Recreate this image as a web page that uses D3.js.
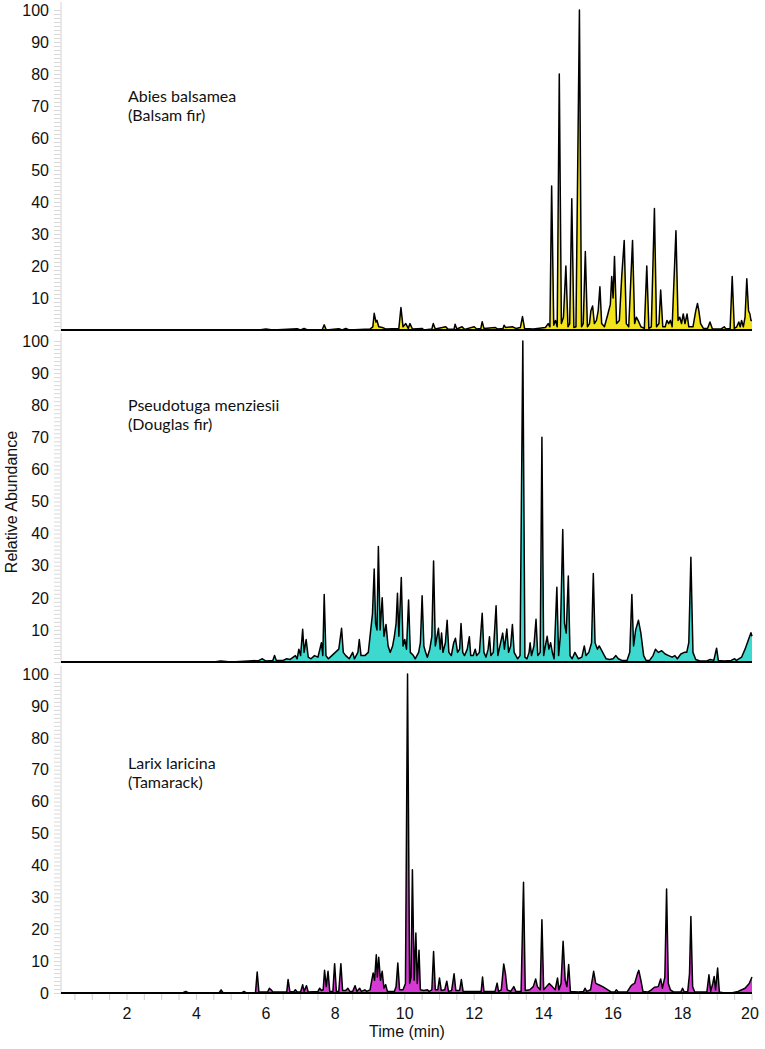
<!DOCTYPE html>
<html><head><meta charset="utf-8">
<script src="https://cdn.jsdelivr.net/npm/d3@7/dist/d3.min.js"></script>
<style>
html,body{margin:0;padding:0;background:#fff;}
svg{display:block;}
</style></head>
<body>
<script>
// ---- data (time in min, relative abundance) ----
const sampleNames = ["Abies balsamea", "Pseudotuga menziesii", "Larix laricina"];
const commonNames = ["(Balsam fir)", "(Douglas fir)", "(Tamarack)"];
const fillColors = ["#f2e41c", "#3dd9ce", "#d63ad2"];
const xTickValues = [2, 4, 6, 8, 10, 12, 14, 16, 18, 20];
const yTickValues = [10, 20, 30, 40, 50, 60, 70, 80, 90, 100];

const abiesTrace = [[0.1,0],[5.8,0],[6.0,0.3],[6.2,0],[6.9,0.4],[7.0,0],[7.1,0.5],[7.2,0],[7.62,0],[7.68,1.6],[7.74,0],[8.1,0.4],[8.2,0],[8.3,0.5],[8.4,0],[9.0,0.3],[9.08,1],[9.12,5.2],[9.17,2.5],[9.2,3],[9.25,1],[9.35,0.8],[9.45,0.3],[9.83,0.5],[9.89,7],[9.95,1],[10.03,2],[10.1,0.5],[10.15,2],[10.22,0.3],[10.5,0.5],[10.55,0],[10.78,0.3],[10.82,2],[10.88,0.3],[11.18,1],[11.25,0.2],[11.42,0.3],[11.45,1.8],[11.5,0.3],[11.65,1],[11.72,0.2],[12.0,1],[12.07,0.3],[12.19,0.5],[12.23,2.6],[12.28,0.5],[12.6,0.8],[12.68,0.3],[12.83,0.5],[12.86,1.5],[12.9,0.8],[13.1,1],[13.2,0.5],[13.33,0.8],[13.39,4.2],[13.45,0.5],[13.7,0.3],[14.05,0.8],[14.13,2],[14.18,1],[14.23,45],[14.29,1.5],[14.34,3],[14.39,1],[14.45,80],[14.51,2],[14.57,4],[14.64,20],[14.7,1],[14.75,2],[14.81,41],[14.87,0.8],[14.93,1],[15.03,100],[15.09,1],[15.14,2],[15.2,24.5],[15.26,1],[15.32,2],[15.36,6],[15.41,7.5],[15.46,2],[15.52,3],[15.57,6],[15.62,13.5],[15.67,2],[15.75,1],[15.85,5],[15.92,8],[15.96,16.7],[16.0,10],[16.04,23],[16.1,2],[16.18,3],[16.25,17],[16.32,28],[16.38,2],[16.45,1],[16.56,28],[16.62,2],[16.67,4],[16.72,3],[16.8,1],[16.9,0.5],[16.97,20],[17.03,0.5],[17.1,1],[17.19,38],[17.25,1],[17.32,2],[17.37,12.5],[17.43,1],[17.5,1],[17.55,3],[17.6,2],[17.65,3],[17.7,1],[17.81,31],[17.87,3],[17.92,4],[17.97,2],[18.02,5],[18.07,2],[18.13,5],[18.18,1],[18.3,1],[18.38,6],[18.43,8.3],[18.47,6],[18.52,2],[18.6,0.5],[18.72,0.5],[18.79,2.5],[18.86,0.3],[19.1,0.3],[19.2,1],[19.25,0.3],[19.37,0.5],[19.43,16.7],[19.49,0.5],[19.56,1],[19.62,2.5],[19.66,1],[19.7,3],[19.75,1],[19.8,4],[19.85,16],[19.9,6],[19.94,5],[19.97,3],[20,3]];

const pseudotugaTrace = [[0.1,0],[4.5,0],[4.7,0.3],[5.0,0],[5.5,0.3],[5.8,0.5],[5.9,1],[6.0,0.3],[6.2,0.5],[6.25,2],[6.3,0.5],[6.5,0.5],[6.6,1],[6.7,0.8],[6.85,2],[6.9,1],[6.95,4],[7.0,2],[7.06,10.2],[7.1,3],[7.16,7],[7.22,1.5],[7.3,1],[7.4,2],[7.5,1.5],[7.6,6],[7.64,2],[7.68,21],[7.73,2],[7.8,1],[7.9,2],[8.0,3],[8.1,4],[8.18,10.5],[8.23,3],[8.3,2],[8.4,1],[8.5,3],[8.55,1],[8.65,3],[8.69,7],[8.74,2],[8.85,2],[8.95,3],[9.02,10],[9.07,15],[9.12,29],[9.16,12],[9.2,10],[9.24,36],[9.29,10],[9.35,20],[9.4,8],[9.46,11.7],[9.52,5],[9.58,3],[9.65,5],[9.7,8],[9.75,12],[9.79,21.4],[9.83,8],[9.9,26.3],[9.95,5],[10.0,7],[10.05,4],[10.11,19.3],[10.16,3],[10.25,2],[10.3,1],[10.4,3],[10.45,6],[10.5,20.6],[10.55,5],[10.6,3],[10.65,1.5],[10.72,4],[10.78,8],[10.83,31.5],[10.88,5],[10.93,8],[10.97,10.5],[11.02,4],[11.06,9],[11.1,3],[11.17,6],[11.22,13],[11.27,3],[11.34,2],[11.41,6],[11.46,7.4],[11.52,3],[11.58,4],[11.62,12],[11.67,3],[11.72,2],[11.8,4],[11.86,7.9],[11.9,2],[11.97,2],[12.03,4],[12.07,2],[12.15,3],[12.23,15.2],[12.28,3],[12.34,1.5],[12.4,4],[12.44,7.9],[12.48,2],[12.55,3],[12.63,17.5],[12.68,2],[12.74,5],[12.82,9],[12.87,4],[12.94,10.3],[12.99,3],[13.05,5],[13.1,11.7],[13.15,3],[13.25,1],[13.32,2],[13.4,100],[13.46,1.5],[13.52,1],[13.58,3],[13.61,6],[13.65,2],[13.72,5],[13.78,13.3],[13.83,2],[13.9,3],[13.95,70],[14.0,2],[14.05,5],[14.1,8],[14.15,4],[14.2,6],[14.25,3],[14.3,1],[14.38,23.3],[14.43,2],[14.48,8],[14.55,41.3],[14.6,12],[14.65,9],[14.71,26.8],[14.76,2],[14.82,1],[14.9,3],[15.0,1],[15.1,1.5],[15.17,5],[15.22,2],[15.3,3],[15.38,6],[15.43,27.6],[15.48,6],[15.55,4],[15.6,5],[15.7,3],[15.8,1],[15.9,0.8],[16.0,1],[16.08,2],[16.15,1],[16.25,0.5],[16.4,0.5],[16.48,3],[16.54,21],[16.59,5],[16.65,10],[16.73,13],[16.8,9],[16.88,2],[16.95,0.5],[17.05,0.5],[17.15,2],[17.22,4],[17.3,3],[17.4,3.5],[17.5,2.5],[17.6,2],[17.7,1.5],[17.78,2],[17.85,1],[17.95,2.5],[18.05,3],[18.12,3],[18.18,6],[18.24,32.6],[18.3,3],[18.38,0.8],[18.5,0.3],[18.7,0.3],[18.8,0.8],[18.9,0.5],[18.98,4.3],[19.03,0.5],[19.2,0.3],[19.4,0.5],[19.5,1],[19.55,0.5],[19.7,1.5],[19.8,4],[19.9,7],[19.97,9.1],[20,8]];

const larixTrace = [[0.1,0],[3.6,0],[3.69,0.5],[3.78,0],[4.65,0],[4.71,1],[4.77,0],[5.3,0],[5.37,0.5],[5.44,0],[5.7,0],[5.75,6.6],[5.8,0.3],[6.05,0.3],[6.1,1.5],[6.15,1],[6.2,0.3],[6.6,0.3],[6.64,4.2],[6.69,0.5],[6.8,0.3],[6.85,1],[6.9,0.3],[7.0,0.3],[7.06,2.6],[7.1,0.5],[7.17,2.3],[7.22,0.3],[7.5,0.5],[7.55,1.5],[7.6,0.8],[7.65,1],[7.69,7.1],[7.74,2],[7.79,6.8],[7.84,0.5],[7.93,0.5],[7.98,9.2],[8.03,0.5],[8.1,0.5],[8.16,9.2],[8.21,0.8],[8.3,0.8],[8.36,1.5],[8.42,0.5],[8.5,0.5],[8.57,2.3],[8.62,0.5],[8.7,1.5],[8.75,0.5],[8.85,1],[8.9,0.5],[9.0,1],[9.05,4],[9.09,6.3],[9.13,4],[9.18,12],[9.21,5],[9.25,11.2],[9.3,4],[9.35,6.8],[9.4,1.5],[9.45,2.6],[9.5,0.5],[9.7,0.5],[9.75,2],[9.8,9.4],[9.85,1],[9.95,1],[10.02,3],[10.08,100],[10.14,3],[10.18,5],[10.22,38.6],[10.27,4],[10.32,18.8],[10.36,3],[10.41,13.4],[10.45,1],[10.55,0.8],[10.65,1],[10.7,0.5],[10.78,1],[10.83,13],[10.88,1],[10.95,1],[11.0,4.7],[11.05,0.8],[11.15,1],[11.21,3.7],[11.26,0.5],[11.35,0.8],[11.42,6],[11.47,0.8],[11.58,0.8],[11.63,4.2],[11.68,0.5],[12.2,0.5],[12.24,5],[12.28,0.5],[12.6,0.5],[12.66,3.1],[12.7,0.5],[12.78,1],[12.85,9.1],[12.9,6],[12.95,1],[13.05,0.5],[13.14,2],[13.2,0.5],[13.35,0.5],[13.42,34.7],[13.47,0.8],[13.6,1],[13.7,2],[13.77,4.4],[13.82,2],[13.9,1],[13.95,23],[14.0,1],[14.08,2],[14.16,3],[14.25,2],[14.33,1],[14.4,4.7],[14.44,1],[14.5,3],[14.56,16.2],[14.62,4],[14.67,2],[14.72,8.9],[14.77,0.5],[15.0,0.3],[15.15,0.5],[15.19,1.5],[15.24,0.5],[15.35,1],[15.44,6.8],[15.5,3],[15.6,2.5],[15.7,2],[15.85,1],[15.95,0.3],[16.05,0.3],[16.09,1],[16.15,0.3],[16.4,0.3],[16.5,2],[16.55,2.6],[16.62,3],[16.7,6],[16.74,7.1],[16.8,4],[16.86,0.5],[17.0,0.3],[17.1,1],[17.19,1.8],[17.3,2],[17.37,4.4],[17.42,1.5],[17.49,5],[17.54,32.6],[17.59,3],[17.65,1],[17.75,0.3],[17.95,0.3],[18.0,1.5],[18.05,0.3],[18.15,0.5],[18.2,6],[18.24,24],[18.29,2],[18.35,0.3],[18.7,0.3],[18.76,5.7],[18.81,0.5],[18.87,3],[18.91,5.2],[18.95,1],[19.01,7.8],[19.06,0.3],[19.2,0],[19.4,0],[19.6,0.5],[19.8,1.5],[19.92,3],[20,5]];

const traces = [abiesTrace, pseudotugaTrace, larixTrace];

// ---- layout ----
const W = 765, H = 1049;
const xLeft = 61, xRight = 752;
const panelBase = [330, 662, 993];
const panelTop = [10, 341, 674];
const labelOffset = [92, 70, 95];
const AXFONT = "'Liberation Sans', Arial, Helvetica, sans-serif";

const svg = d3.select("body").append("svg").attr("width", W).attr("height", H);

const x = d3.scaleLinear().domain([0.1, 20]).range([xLeft, xRight]);

traces.forEach((trace, i) => {
  const y = d3.scaleLinear().domain([0, 100]).range([panelBase[i], panelTop[i]]);
  const g = svg.append("g");

  // y axis (light gray) with minor ticks
  const minor = d3.range(0, 100.01, 1.25);
  g.append("line").attr("x1", xLeft).attr("x2", xLeft)
    .attr("y1", panelTop[i] - 8).attr("y2", panelBase[i])
    .attr("stroke", "#d4d4d4").attr("stroke-width", 1);
  g.selectAll("line.mt").data(minor).join("line").attr("class", "mt")
    .attr("x1", xLeft - 7).attr("x2", xLeft)
    .attr("y1", d => y(d) + 0.5).attr("y2", d => y(d) + 0.5)
    .attr("stroke", "#dadada").attr("stroke-width", 1);

  const labels = i === 2 ? [0].concat(yTickValues) : yTickValues;
  g.selectAll("text.yl").data(labels).join("text").attr("class", "yl")
    .attr("x", xLeft - 12).attr("y", d => y(d))
    .attr("dy", "0.36em").attr("text-anchor", "end")
    .style("font-family", AXFONT).style("font-size", "16px")
    .attr("fill", "#111").text(d => d);

  // area + outline
  const area = d3.area().x(d => x(d[0])).y0(y(0)).y1(d => y(d[1]));
  const line = d3.line().x(d => x(d[0])).y(d => y(d[1]));
  g.append("path").datum(trace).attr("d", area).attr("fill", fillColors[i]);
  g.append("path").datum(trace).attr("d", line).attr("fill", "none")
    .attr("stroke", "#000").attr("stroke-width", 1.5).attr("stroke-linejoin", "round");

  // baseline
  g.append("line").attr("x1", xLeft).attr("x2", xRight)
    .attr("y1", panelBase[i]).attr("y2", panelBase[i])
    .attr("stroke", "#000").attr("stroke-width", 2);

  // species label
  g.append("text").attr("x", 128).attr("y", panelTop[i] + labelOffset[i])
    .style("font-family", "Lato, sans-serif").style("font-size", "16px").attr("fill", "#111")
    .text(sampleNames[i]);
  g.append("text").attr("x", 128).attr("y", panelTop[i] + labelOffset[i] + 19)
    .style("font-family", "Lato, sans-serif").style("font-size", "16px").attr("fill", "#111")
    .text(commonNames[i]);
});

// x axis ticks on the bottom panel
const xMinor = d3.range(0.5, 20.01, 0.5);
svg.selectAll("line.xt").data(xMinor).join("line").attr("class", "xt")
  .attr("x1", d => x(d)).attr("x2", d => x(d))
  .attr("y1", panelBase[2] + 1).attr("y2", panelBase[2] + 7)
  .attr("stroke", "#d0d0d0").attr("stroke-width", 1);
svg.selectAll("text.xl").data(xTickValues).join("text").attr("class", "xl")
  .attr("x", d => d === 20 ? x(d) - 2 : x(d)).attr("y", 1019)
  .attr("text-anchor", "middle")
  .style("font-family", AXFONT).style("font-size", "16px")
  .attr("fill", "#111").text(d => d);

svg.append("text").attr("x", 407).attr("y", 1037).attr("text-anchor", "middle")
  .style("font-family", AXFONT).style("font-size", "16px")
  .attr("fill", "#111").text("Time (min)");

svg.append("text").attr("transform", "translate(17,502) rotate(-90)")
  .attr("text-anchor", "middle")
  .style("font-family", AXFONT).style("font-size", "16px")
  .attr("fill", "#111").text("Relative Abundance");
</script>
</body></html>
